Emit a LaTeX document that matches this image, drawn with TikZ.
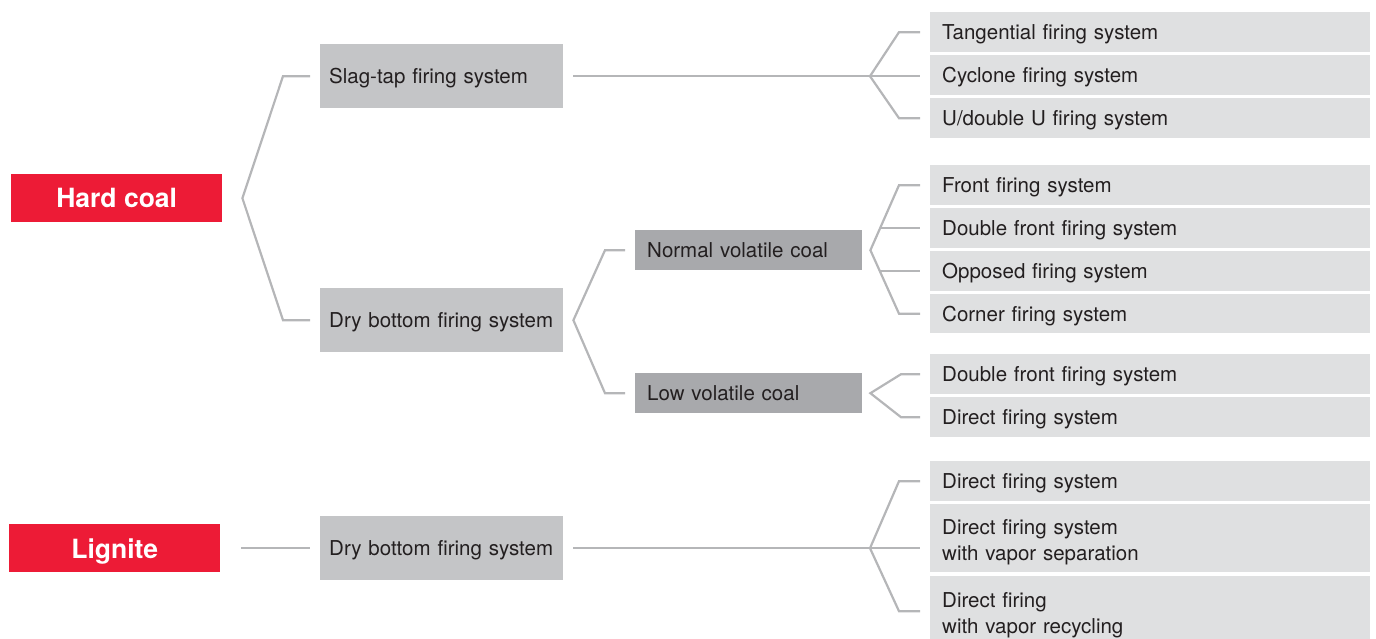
\documentclass[tikz,border=0pt]{standalone}
\usepackage{fontspec}
\setmainfont{TeX Gyre Heros}
\usetikzlibrary{calc}

\definecolor{coalred}{HTML}{ED1B36}
\definecolor{midgrey}{HTML}{C4C5C7}
\definecolor{darkgrey}{HTML}{A8A9AC}
\definecolor{lightgrey}{HTML}{DFE0E1}
\definecolor{linegrey}{HTML}{B5B6B8}
\definecolor{ink}{HTML}{231F20}

\begin{document}
\begin{tikzpicture}[
  x=1pt, y=-1pt, font=\fontsize{20.5}{26}\selectfont, text=ink,
  box/.style  ={rectangle,inner ysep=0pt,anchor=north west,align=left,text depth=0pt},
  fuel/.style ={box,fill=coalred,text=white,align=center,minimum width=211pt,
                minimum height=48pt,inner xsep=0pt,font=\fontsize{26.5}{30}\selectfont\bfseries},
  firing/.style ={box,fill=midgrey,text width=225pt,inner xsep=9pt,minimum height=64pt},
  volat/.style={box,fill=darkgrey,text width=203pt,inner xsep=12pt,minimum height=40pt},
  leaf/.style ={box,fill=lightgrey,text width=416pt,inner xsep=12pt},
  twoline/.style={text depth=22pt},
  link/.style ={draw=linegrey,line width=2.2pt,line join=miter},
]
\useasboundingbox (0,0) rectangle (1376,639);

% ------------------------------------------------------------------ fuels
\node[fuel] (hard) at (11,174) {Hard coal};
\node[fuel] (lig)  at (9,524)  {Lignite};

% ------------------------------------------------------------ firing types
\node[firing] (slag) at (320,44)  {Slag-tap firing system};
\node[firing] (dbh)  at (320,288) {Dry bottom firing system};
\node[firing] (dbl)  at (320,516) {Dry bottom firing system};

\node[volat] (normal) at (635,230) {Normal volatile coal};
\node[volat] (low)    at (635,373) {Low volatile coal};

% ------------------------------------------------------------- leaf boxes
\foreach \n/\y/\h/\t in {
    t1/12/40/{Tangential firing system},
    t2/55/40/{Cyclone firing system},
    t3/98/40/{U/double U firing system},
    f1/165/40/{Front firing system},
    f2/208/40/{Double front firing system},
    f3/251/40/{Opposed firing system},
    f4/294/39/{Corner firing system},
    l1/354/40/{Double front firing system},
    l2/397/40/{Direct firing system},
    g1/461/40/{Direct firing system}} {
  \node[leaf,minimum height=\h pt] (\n) at (930,\y) {\t};
}
\node[leaf,twoline,minimum height=68pt] (g2) at (930,504) {Direct firing system\\with vapor separation};
\node[leaf,twoline,minimum height=70pt] (g3) at (930,576) {Direct firing\\with vapor recycling};

% ------------------------------------------------------------- connectors
% hard coal -> slag-tap / dry bottom
\coordinate (hA) at ([xshift=20]hard.east);
\draw[link] ([xshift=-10]slag.west) -- ([xshift=-37]slag.west) -- (hA)
            -- ([xshift=-37]dbh.west) -- ([xshift=-10]dbh.west);

% slag-tap -> three systems
\coordinate (sA) at ($(slag.east -| t2.west)+(-60,0)$);
\draw[link] ([xshift=10]slag.east) -- ($(slag.east -| t2.west)+(-10,0)$);
\draw[link] ([xshift=-10]t1.west) -- ([xshift=-31]t1.west) -- (sA)
            -- ([xshift=-31]t3.west) -- ([xshift=-10]t3.west);

% dry bottom -> normal / low volatile
\coordinate (dA) at ([xshift=10]dbh.east);
\draw[link] ([xshift=-10]normal.west) -- ([xshift=-30]normal.west) -- (dA)
            -- ([xshift=-30]low.west) -- ([xshift=-10]low.west);

% normal volatile -> four systems
\coordinate (nA) at ([xshift=8]normal.east);
\draw[link] ([xshift=-10]f1.west) -- ([xshift=-31]f1.west) -- (nA)
            -- ([xshift=-31]f4.west) -- ([xshift=-10]f4.west);
\draw[link] ([xshift=-50]f2.west) -- ([xshift=-10]f2.west);
\draw[link] ([xshift=-50]f3.west) -- ([xshift=-10]f3.west);

% low volatile -> two systems
\coordinate (lA) at ([xshift=8]low.east);
\draw[link] ([xshift=-10]l1.west) -- ([xshift=-29]l1.west) -- (lA)
            -- ([xshift=-29]l2.west) -- ([xshift=-10]l2.west);

% lignite -> dry bottom -> three systems
\draw[link] ([xshift=21]lig.east) -- ($(lig.east -| dbl.west)+(-10,0)$);
\coordinate (gA) at ($(dbl.east -| g1.west)+(-60,0)$);
\draw[link] ([xshift=10]dbl.east) -- ($(dbl.east -| g2.west)+(-10,0)$);
\draw[link] ([xshift=-10]g1.west) -- ([xshift=-31]g1.west) -- (gA)
            -- ([xshift=-31]g3.west) -- ([xshift=-10]g3.west);

\end{tikzpicture}
\end{document}
